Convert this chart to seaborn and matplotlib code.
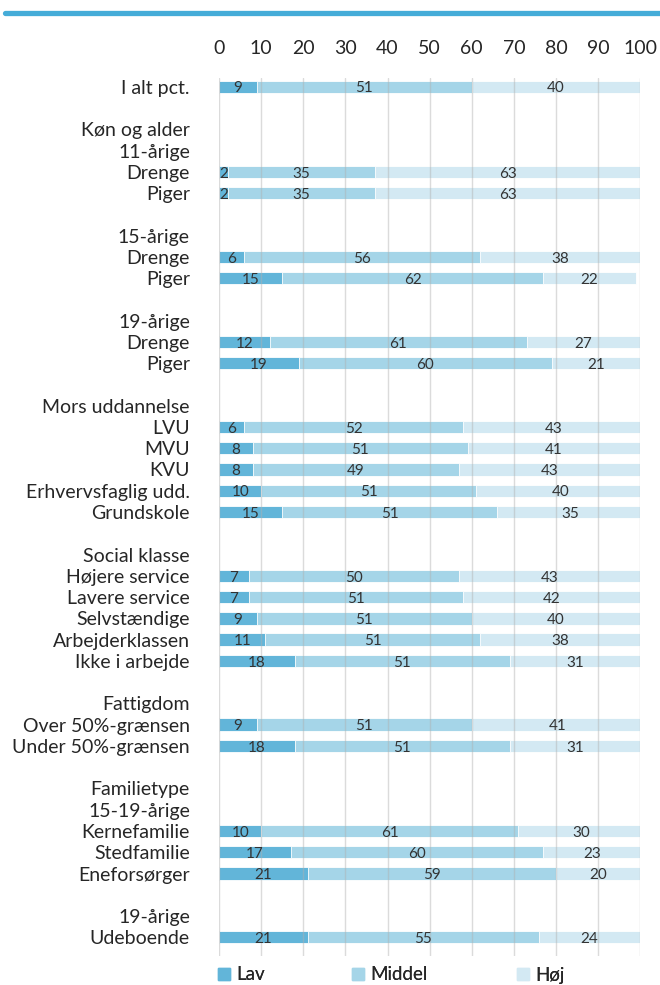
import numpy as np
import pandas as pd
import matplotlib.pyplot as plt
import seaborn as sns

# row labels, top to bottom (blank strings are spacer rows)
labels = ["I alt pct.", "", "Køn og alder", "11-årige", "Drenge", "Piger", "",
          "15-årige", "Drenge", "Piger", "", "19-årige", "Drenge", "Piger", "",
          "Mors uddannelse", "LVU", "MVU", "KVU", "Erhvervsfaglig udd.", "Grundskole", "",
          "Social klasse", "Højere service", "Lavere service", "Selvstændige",
          "Arbejderklassen", "Ikke i arbejde", "",
          "Fattigdom", "Over 50%-grænsen", "Under 50%-grænsen", "",
          "Familietype", "15-19-årige", "Kernefamilie", "Stedfamilie", "Eneforsørger", "",
          "19-årige", "Udeboende"]

# rows that carry a bar
bar_rows = [0, 4, 5, 8, 9, 12, 13, 16, 17, 18, 19, 20, 23, 24, 25, 26, 27,
            30, 31, 35, 36, 37, 40]
lav =    [9, 2, 2, 6, 15, 12, 19, 6, 8, 8, 10, 15, 7, 7, 9, 11, 18, 9, 18, 10, 17, 21, 21]
middel = [51, 35, 35, 56, 62, 61, 60, 52, 51, 49, 51, 51, 50, 51, 51, 51, 51, 51, 51, 61, 60, 59, 55]
hoej =   [40, 63, 63, 38, 22, 27, 21, 43, 41, 43, 40, 35, 43, 42, 40, 38, 31, 41, 31, 30, 23, 20, 24]

series = ["Lav", "Middel", "Høj"]
colors = ["#62b5d9", "#a5d5e8", "#d3e9f3"]

df = pd.DataFrame({"row": bar_rows, "Lav": lav, "Middel": middel, "Høj": hoej})
df["c1"] = df["Lav"]
df["c2"] = df["Lav"] + df["Middel"]
df["c3"] = df["c2"] + df["Høj"]

sns.set_style("white")
plt.rcParams["font.family"] = ["Lato", "DejaVu Sans"]

fig = plt.figure(figsize=(6.6, 9.85), dpi=100)
ax = fig.add_axes([0.332, 0.029, 0.638, 0.892])

# stacked bars: draw cumulative totals, widest first
for col, c in zip(["c3", "c2", "c1"], colors[::-1]):
    sns.barplot(data=df, x=col, y="row", orient="h", native_scale=True,
                color=c, saturation=1, width=0.58, edgecolor="white",
                linewidth=0.6, ax=ax)

# value labels in the middle of each segment
for _, r in df.iterrows():
    left = 0
    for s in series:
        ax.text(left + r[s] / 2, r["row"] + 0.08, str(int(r[s])), ha="center",
                va="center", fontsize=11, color="#333333")
        left += r[s]

ax.set_xlim(0, 100)
ax.set_ylim(40.9, -0.42)
ax.set_xticks(np.arange(0, 101, 10))
ax.xaxis.tick_top()
ax.tick_params(axis="x", length=0, pad=15, labelsize=14, labelcolor="#262626")
ax.set_yticks(range(len(labels)))
ax.set_yticklabels(labels)
ax.tick_params(axis="y", length=0, pad=21, labelsize=14, labelcolor="#262626")
ax.set_xlabel("")
ax.set_ylabel("")
ax.grid(axis="x", color="#b0b0b0", alpha=0.45, linewidth=1)
ax.set_axisbelow(False)
for sp in ax.spines.values():
    sp.set_visible(False)

# legend, one entry at a time so the spacing follows the original
legend_x = [218, 352, 517]
for name, c, x in zip(series, colors, legend_x):
    leg = fig.legend([plt.Rectangle((0, 0), 1, 1, color=c)], [name],
                     loc="center left", bbox_to_anchor=(x / 660, 1 - 975 / 985),
                     frameon=False, fontsize=13.5, handlelength=0.65,
                     handleheight=0.65, handletextpad=0.3, borderpad=0,
                     borderaxespad=0, labelcolor="#262626")
    fig.add_artist(leg)

# top rule
fig.add_artist(plt.Line2D([0.008, 1.0], [0.987, 0.987], color="#45acd8",
                          linewidth=3.8, transform=fig.transFigure))

fig.savefig("out.png", dpi=100)
